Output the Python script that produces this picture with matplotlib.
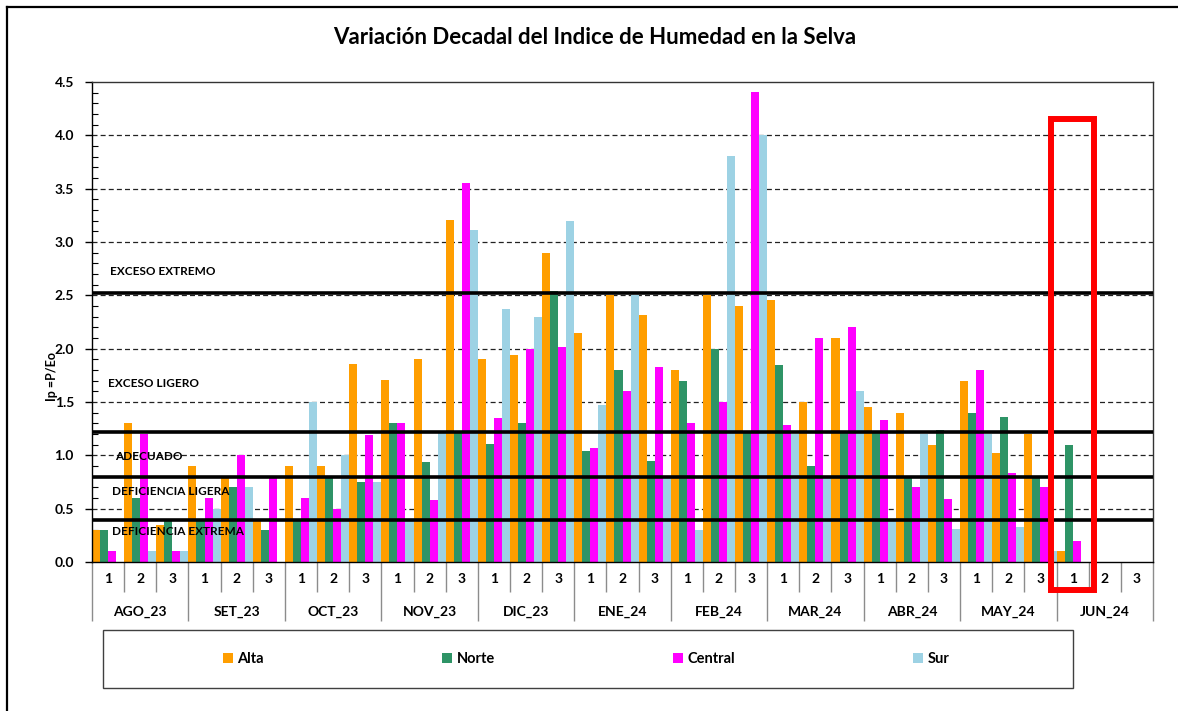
import matplotlib
matplotlib.use("Agg")
import matplotlib.pyplot as plt
from matplotlib.patches import Rectangle
from matplotlib.lines import Line2D
import numpy as np

plt.rcParams['font.family'] = ['Lato', 'DejaVu Sans']
plt.rcParams['font.weight'] = 'bold'

nan = np.nan
meses = ['AGO_23', 'SET_23', 'OCT_23', 'NOV_23', 'DIC_23', 'ENE_24',
         'FEB_24', 'MAR_24', 'ABR_24', 'MAY_24', 'JUN_24']
decadas = ['1', '2', '3']

alta = [0.30, 1.30, 0.35, 0.90, 0.80, 0.38, 0.90, 0.90, 1.86, 1.71, 1.90, 3.21,
        1.90, 1.94, 2.90, 2.15, 2.50, 2.32, 1.80, 2.50, 2.40, 2.46, 1.50, 2.10,
        1.45, 1.40, 1.10, 1.70, 1.02, 1.20, 0.10, nan, nan]
norte = [0.30, 0.60, 0.40, 0.40, 0.70, 0.30, 0.40, 0.80, 0.75, 1.30, 0.94, 1.21,
         1.11, 1.30, 2.54, 1.04, 1.80, 0.95, 1.70, 2.00, 1.21, 1.85, 0.90, 1.21,
         1.22, 0.80, 1.24, 1.40, 1.36, 0.80, 1.10, nan, nan]
central = [0.10, 1.20, 0.10, 0.60, 1.00, 0.80, 0.60, 0.50, 1.19, 1.30, 0.58, 3.55,
           1.35, 2.00, 2.02, 1.07, 1.60, 1.83, 1.30, 1.50, 4.41, 1.28, 2.10, 2.20,
           1.33, 0.70, 0.59, 1.80, 0.83, 0.70, 0.20, nan, nan]
sur = [nan, 0.10, 0.10, 0.50, 0.70, nan, 1.50, 1.00, 0.75, 0.40, 1.21, 3.11,
       2.37, 2.30, 3.20, 1.47, 2.50, 0.80, 0.30, 3.81, 4.00, 1.20, 0.80, 1.60,
       0.38, 1.20, 0.31, 1.20, 0.33, 0.10, nan, nan, nan]

series = ['Alta', 'Norte', 'Central', 'Sur']
colores = ['#FF9E00', '#2E9466', '#FF00FF', '#9DD2E4']

# umbrales del indice de humedad
umbrales = [2.52, 1.22, 0.80, 0.39]
etiquetas = ['EXCESO EXTREMO', 'EXCESO LIGERO', 'ADECUADO',
             'DEFICIENCIA LIGERA', 'DEFICIENCIA EXTREMA']
etiq_y = [2.72, 1.67, 0.99, 0.66, 0.29]
etiq_x = [0.017, 0.015, 0.022, 0.019, 0.019]

W, H = 1178, 711
fig = plt.figure(figsize=(W / 100, H / 100), dpi=100)
ax = fig.add_axes([92 / W, 1 - 562 / H, (1153 - 92) / W, (562 - 82) / H])

x = np.arange(len(alta))
ancho = 0.25
for k, (vals, col, nom) in enumerate(zip([alta, norte, central, sur], colores, series)):
    ax.bar(x + (k - 1.5) * ancho, vals, width=ancho, color=col, label=nom,
           edgecolor='none', zorder=2)

ax.set_xlim(-0.5, len(alta) - 0.5)
ax.set_ylim(0, 4.5)
ax.set_yticks(np.arange(0, 4.51, 0.5))
ax.set_yticklabels(['%.1f' % v for v in np.arange(0, 4.51, 0.5)], fontsize=10, fontweight='bold')
ax.set_yticks(np.arange(0, 4.51, 0.1), minor=True)
ax.tick_params(axis='y', which='major', direction='out', length=5, width=1, pad=8)
ax.tick_params(axis='y', which='minor', direction='in', length=4, width=0.8)

for v in np.arange(0.5, 4.01, 0.5):
    ax.axhline(v, color='#222222', lw=0.9, dashes=(4, 2.5), zorder=1)

for u in umbrales:
    ax.axhline(u, color='black', lw=2.6, zorder=3)
for t, ty, tx in zip(etiquetas, etiq_y, etiq_x):
    ax.text(tx, ty, t, transform=ax.get_yaxis_transform(), fontsize=8.5,
            fontweight='bold', va='center', ha='left', zorder=4)

# eje x en dos niveles: decadas y meses
ax.set_xticks(np.arange(-0.5, len(alta), 3))
ax.set_xticklabels([])
ax.set_xticks(np.arange(-0.5, len(alta), 1), minor=True)
ax.tick_params(axis='x', which='major', length=42.5, color='#8c8c8c', width=1)
ax.tick_params(axis='x', which='minor', length=21.6, color='#8c8c8c', width=1)
for i in x:
    ax.annotate(decadas[i % 3], xy=(i, 0), xycoords=ax.get_xaxis_transform(),
                xytext=(0, -12.5), textcoords='offset points', ha='center', va='center',
                fontsize=10, fontweight='bold')
for j, m in enumerate(meses):
    ax.annotate(m, xy=(3 * j + 1, 0), xycoords=ax.get_xaxis_transform(),
                xytext=(0, -36), textcoords='offset points', ha='center', va='center',
                fontsize=10, fontweight='bold')

for s in ax.spines.values():
    s.set_color('#333333')
    s.set_linewidth(1)
ax.spines['left'].set_color('black')
ax.spines['bottom'].set_color('black')

# recuadro rojo sobre JUN_24 decada 1
ax.add_patch(Rectangle((29.32, -0.263), 1.34, 4.42, fill=False, edgecolor='#FF0000',
                       lw=4.3, clip_on=False, zorder=5))

fig.text(595 / W, 1 - 37 / H, 'Variación Decadal del Indice de Humedad en la Selva',
         ha='center', va='center', fontsize=16, fontweight='bold')
fig.text(52 / W, 1 - 376 / H, 'Ip =P/Eo', rotation=90, ha='center', va='center',
         fontsize=9, fontweight='bold')

fig.legend(loc='center', bbox_to_anchor=(586 / W, 1 - 659 / H), ncol=4, frameon=False,
           fontsize=10.5, handlelength=0.7, handleheight=0.7, handletextpad=0.3,
           columnspacing=12.2)
fig.add_artist(Rectangle((103 / W, 1 - 688 / H), 970 / W, 58 / H, fill=False,
                         edgecolor='#404040', lw=1, transform=fig.transFigure))

# borde exterior
fig.add_artist(Line2D([7 / W, 7 / W], [0, 1 - 7 / H], color='black', lw=1.6,
                      transform=fig.transFigure))
fig.add_artist(Line2D([7 / W, 1], [1 - 7 / H, 1 - 7 / H], color='black', lw=1.6,
                      transform=fig.transFigure))

plt.savefig('out.png', dpi=100)
